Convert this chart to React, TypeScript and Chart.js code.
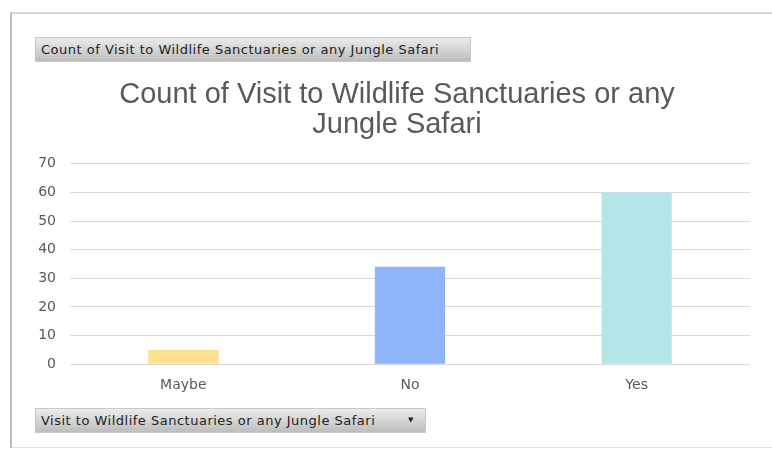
import React, { useEffect, useRef } from "react";
import { Chart, registerables } from "chart.js";

Chart.register(...registerables);

const categories = ["Maybe", "No", "Yes"];
const counts = [5, 34, 60];
const barColors = ["#FFE08C", "#8DB5F7", "#B4E5E7"];
const titleLines = ["Count of Visit to Wildlife Sanctuaries or any", "Jungle Safari"];
const topButtonLabel = "Count of Visit to Wildlife Sanctuaries or any Jungle Safari";
const bottomButtonLabel = "Visit to Wildlife Sanctuaries or any Jungle Safari";

const buttonStyle: React.CSSProperties = {
  position: "absolute",
  height: 25,
  boxSizing: "border-box",
  background: "linear-gradient(#ececec, #bdbdbd)",
  border: "1px solid #c8c8c8",
  fontFamily: "'DejaVu Sans', sans-serif",
  fontSize: 13,
  letterSpacing: "0.5px",
  color: "#222",
  lineHeight: "23px",
  paddingLeft: 5,
  whiteSpace: "nowrap",
};

const titleShift = {
  id: "titleShift",
  afterLayout(chart: any) {
    if (chart.titleBlock) {
      chart.titleBlock.left += 14;
    }
  },
};

export default function App() {
  const ref = useRef<HTMLCanvasElement>(null);
  useEffect(() => {
    if (!ref.current) return;
    const chart = new Chart(ref.current, {
      type: "bar",
      data: {
        labels: categories,
        datasets: [
          {
            data: counts,
            backgroundColor: barColors,
            barPercentage: 0.31,
            categoryPercentage: 1,
          },
        ],
      },
      plugins: [titleShift],
      options: {
        animation: false,
        responsive: false,
        layout: { padding: { top: 80, left: 30, right: 22, bottom: 53 } },
        plugins: {
          legend: { display: false },
          tooltip: { enabled: false },
          title: {
            display: true,
            text: titleLines,
            color: "#595959",
            font: { family: "'Liberation Sans', Arial, sans-serif", size: 29, weight: "normal", lineHeight: 1.03 },
            padding: { top: 0, bottom: 24 },
          },
        },
        scales: {
          x: {
            grid: { display: false },
            border: { display: false },
            ticks: {
              color: "#595959",
              padding: 5,
              font: { family: "'DejaVu Sans', sans-serif", size: 14 },
            },
          },
          y: {
            min: 0,
            max: 70,
            afterFit: (s: any) => {
              s.width = 40;
            },
            ticks: {
              stepSize: 10,
              color: "#595959",
              padding: 14,
              font: { family: "'DejaVu Sans', sans-serif", size: 14 },
            },
            grid: { color: "#d9d9d9", lineWidth: 1, drawTicks: false },
            border: { display: false },
          },
        },
      },
    });
    return () => chart.destroy();
  }, []);
  return (
    <div style={{ position: "fixed", left: 0, top: 0, width: 772, height: 452, background: "#fff", overflow: "hidden" }}>
      <div
        style={{
          position: "absolute",
          left: 10,
          top: 12,
          width: 780,
          height: 436,
          borderLeft: "2px solid #bcbcbc",
          borderTop: "2px solid #d6d6d6",
          borderBottom: "1px solid #e0e0e0",
          boxSizing: "border-box",
        }}
      />
      <canvas ref={ref} width={772} height={452} style={{ position: "absolute", left: 0, top: 0 }} />
      <div style={{ ...buttonStyle, left: 35, top: 37, width: 436 }}>{topButtonLabel}</div>
      <div style={{ ...buttonStyle, left: 35, top: 408, width: 391 }}>
        {bottomButtonLabel}
        <span style={{ position: "absolute", left: 372, top: 0, fontSize: 7 }}>▼</span>
      </div>
    </div>
  );
}
